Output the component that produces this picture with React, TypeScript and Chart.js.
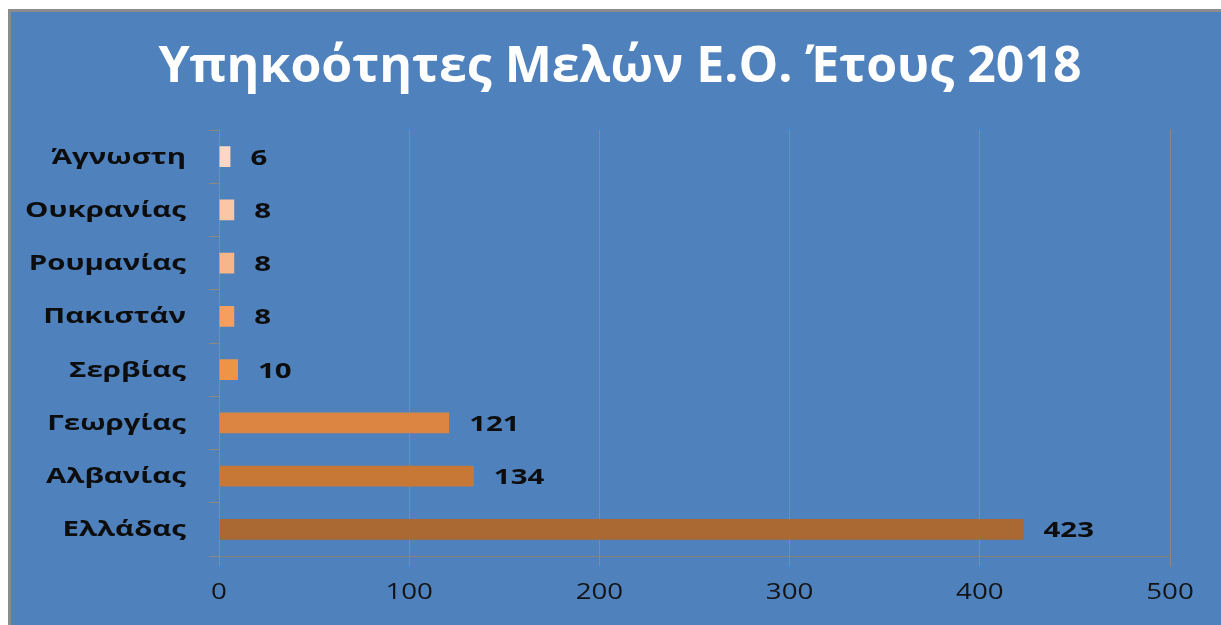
import React, { useEffect, useRef } from "react";
import { Chart, registerables } from "chart.js";

Chart.register(...registerables);

const categories = ["Άγνωστη", "Ουκρανίας", "Ρουμανίας", "Πακιστάν", "Σερβίας", "Γεωργίας", "Αλβανίας", "Ελλάδας"];
const values = [6, 8, 8, 8, 10, 121, 134, 423];
const barColors = ["#FCD7C6", "#F9C6A6", "#F7B58A", "#F59E5E", "#EE9447", "#DC8542", "#C77836", "#AA6832"];
const xTicks = [0, 100, 200, 300, 400, 500];
const titleText = "Υπηκοότητες Μελών Ε.Ο. Έτους 2018";

const FONT = "'Open Sans', 'Noto Sans', sans-serif";
const STRETCH = 1.4;

function stretchedText(ctx: CanvasRenderingContext2D, text: string, x: number, y: number, align: "left" | "right" | "center", sx: number) {
  const w = ctx.measureText(text).width * sx;
  let left = x;
  if (align === "right") left = x - w;
  else if (align === "center") left = x - w / 2;
  ctx.save();
  ctx.translate(left, y);
  ctx.scale(sx, 1);
  ctx.textAlign = "left";
  ctx.fillText(text, 0, 0);
  ctx.restore();
}

export default function App() {
  const ref = useRef<HTMLCanvasElement | null>(null);

  useEffect(() => {
    if (!ref.current) return;
    const textPlugin = {
      id: "customText",
      afterDraw(chart: any) {
        const ctx = chart.ctx as CanvasRenderingContext2D;
        ctx.save();
        // title
        ctx.fillStyle = "#FFFFFF";
        ctx.font = `bold 50px ${FONT}`;
        ctx.textBaseline = "middle";
        stretchedText(ctx, titleText, 609, 56, "center", 1.0);
        // y labels
        const yScale = chart.scales.y;
        ctx.fillStyle = "#0D0D0D";
        ctx.font = `bold 21px ${FONT}`;
        categories.forEach((c, i) => {
          stretchedText(ctx, c, 175, yScale.getPixelForValue(i) + 1, "right", STRETCH);
        });
        // x tick labels
        const xScale = chart.scales.x;
        ctx.fillStyle = "#141414";
        ctx.font = `21px ${FONT}`;
        xTicks.forEach((v) => {
          stretchedText(ctx, String(v), xScale.getPixelForValue(v), 581, "center", 1.32);
        });
        ctx.restore();
      },
      afterDatasetsDraw(chart: any) {
        const ctx = chart.ctx as CanvasRenderingContext2D;
        const meta = chart.getDatasetMeta(0);
        ctx.save();
        ctx.fillStyle = "#0D0D0D";
        ctx.font = `bold 21px ${FONT}`;
        ctx.textBaseline = "middle";
        meta.data.forEach((bar: any, i: number) => {
          stretchedText(ctx, String(values[i]), bar.x + 20, bar.y + 2, "left", STRETCH);
        });
        ctx.restore();
      },
    };
    const chart = new Chart(ref.current, {
      type: "bar",
      data: {
        labels: categories,
        datasets: [
          {
            data: values,
            backgroundColor: barColors,
            borderWidth: 0,
            barPercentage: 0.39,
            categoryPercentage: 1,
          },
        ],
      },
      options: {
        indexAxis: "y",
        animation: false,
        responsive: false,
        maintainAspectRatio: false,
        layout: { padding: { left: 0, right: 51, top: 118, bottom: 0 } },
        plugins: { legend: { display: false }, tooltip: { enabled: false }, title: { display: false } },
        scales: {
          x: {
            min: 0,
            max: 500,
            afterFit: (s: any) => { s.height = 69; },
            afterBuildTicks: (s: any) => { s.ticks = xTicks.map((v) => ({ value: v })); },
            grid: { color: "#8A8A80", lineWidth: 1, tickLength: 10, drawTicks: true },
            border: { display: true, color: "#8C8070", width: 1 },
            ticks: { display: false },
          },
          y: {
            afterFit: (s: any) => { s.width = 208; },
            grid: { drawOnChartArea: false, color: "#8A8A80", tickLength: 10, offset: true },
            border: { display: true, color: "#8A8A80", width: 1 },
            ticks: { display: false },
          },
        },
      },
      plugins: [textPlugin],
    });
    return () => chart.destroy();
  }, []);

  return (
    <div
      style={{
        position: "fixed",
        left: 8,
        top: 9,
        width: 1213,
        height: 616,
        background: "#4F81BD",
        borderLeft: "3px solid #8C8C8C",
        borderTop: "3px solid #8C8C8C",
        boxSizing: "border-box",
      }}
    >
      <canvas ref={ref} width={1210} height={613} style={{ display: "block" }} />
    </div>
  );
}
